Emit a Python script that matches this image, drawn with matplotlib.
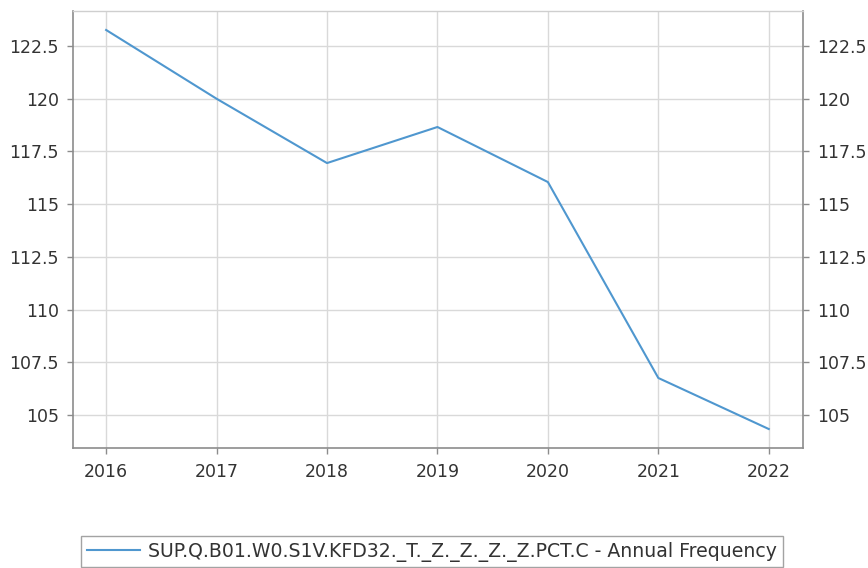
import matplotlib
matplotlib.use("Agg")
import matplotlib.pyplot as plt

years = [2016, 2017, 2018, 2019, 2020, 2021, 2022]
values = [123.26, 120.0, 116.95, 118.66, 116.05, 106.76, 104.34]
yticks = [105, 107.5, 110, 112.5, 115, 117.5, 120, 122.5]
ytick_labels = ["105", "107.5", "110", "112.5", "115", "117.5", "120", "122.5"]
series_label = "SUP.Q.B01.W0.S1V.KFD32._T._Z._Z._Z._Z.PCT.C - Annual Frequency"

plt.rcParams['font.family'] = ['DejaVu Sans']

W, H = 868, 568
fig = plt.figure(figsize=(W / 100, H / 100), dpi=100)
left, right, top, bottom = 73, 803, 11, 448
ax = fig.add_axes([left / W, 1 - bottom / H, (right - left) / W, (bottom - top) / H])

line_color = "#4f97cf"
spine_color = "#8c8c8c"
grid_color = "#d9d9d9"
text_color = "#333333"
fs = 12.5

ax.plot(years, values, color=line_color, linewidth=1.5, label=series_label)
ax.set_xlim(2015.70, 2022.31)
ax.set_ylim(103.44, 124.16)
ax.set_xticks(years)
ax.set_xticklabels([str(y) for y in years])
ax.set_yticks(yticks)
ax.set_yticklabels(ytick_labels)
ax.grid(True, color=grid_color, linewidth=1)
ax.set_axisbelow(True)

for s in ["left", "bottom", "right"]:
    ax.spines[s].set_color(spine_color)
    ax.spines[s].set_linewidth(1.2)
ax.spines["top"].set_color("#cfcfcf")
ax.spines["top"].set_linewidth(1)

ax.tick_params(axis="both", colors=spine_color, labelcolor=text_color,
               labelsize=fs, length=4, width=1)
ax.tick_params(axis="x", pad=7)
ax.tick_params(axis="y", pad=6)

ax2 = ax.twinx()
ax2.set_ylim(ax.get_ylim())
ax2.set_yticks(yticks)
ax2.set_yticklabels(ytick_labels)
ax2.tick_params(axis="y", colors=spine_color, labelcolor=text_color,
                labelsize=fs, length=4, width=1, pad=6)
for s in ax2.spines.values():
    s.set_visible(False)

leg = fig.legend(loc="upper left", bbox_to_anchor=(81 / W, 1 - 536 / H),
                 fontsize=13.6, frameon=True, fancybox=False, borderaxespad=0,
                 handlelength=2.8, borderpad=0.3, handletextpad=0.45)
leg.get_frame().set_edgecolor(spine_color)
leg.get_frame().set_linewidth(1)
for t in leg.get_texts():
    t.set_color(text_color)

fig.savefig("out.png", dpi=100)
